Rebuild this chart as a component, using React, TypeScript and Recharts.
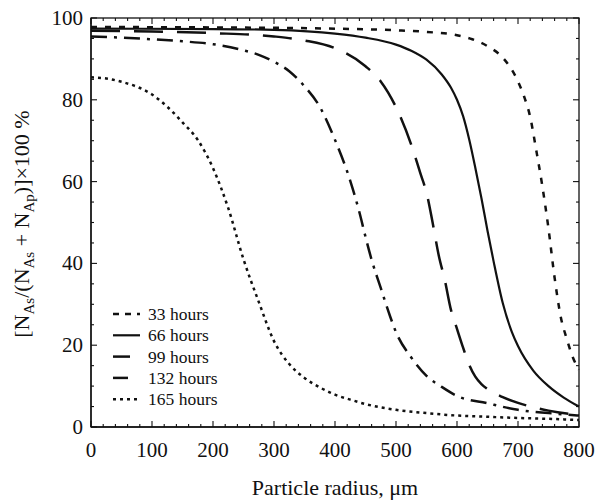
import { LineChart, Line, XAxis, YAxis } from 'recharts'

// particle radius (µm) and percentage, one pair per curve
const radius33 = [0, 200, 300, 400, 500, 550, 600, 625, 650, 675, 700, 710, 720, 730, 740, 750, 760, 770, 780, 790, 800]
const pct33 = [97.8, 97.7, 97.6, 97.4, 97.0, 96.6, 95.8, 94.8, 93.1, 90.3, 84.5, 80.8, 75.8, 67.6, 58.8, 48.5, 36.5, 27, 21.5, 17, 14]

const radius66 = [0, 200, 300, 400, 450, 500, 525, 550, 575, 590, 600, 610, 620, 630, 640, 650, 660, 675, 690, 700, 725, 750, 775, 800]
const pct66 = [97.4, 97.3, 97.1, 96.2, 95.2, 93.5, 92, 89.8, 86.2, 83, 80, 76, 70.3, 63.4, 56, 48, 40.5, 30.3, 23.2, 19.8, 13.8, 10, 7.2, 5]

const radius99 = [0, 100, 200, 300, 350, 400, 450, 475, 500, 525, 540, 550, 560, 570, 580, 590, 600, 610, 620, 630, 640, 650, 675, 700, 750, 800]
const pct99 = [96.9, 96.7, 96.3, 95.5, 94.5, 92.6, 88.2, 84.5, 78.2, 69, 62, 57.3, 50, 42, 35.9, 28.7, 24, 19.4, 15.2, 12.3, 10.5, 9.3, 7.3, 5.9, 4, 2.9]

const radius132 = [0, 100, 150, 200, 250, 275, 300, 325, 350, 375, 400, 425, 440, 450, 460, 475, 490, 500, 525, 550, 575, 600, 650, 700, 750, 800]
const pct132 = [95.5, 94.8, 94.3, 93.6, 92.1, 91, 89.3, 87, 83.3, 78.3, 70.2, 60.2, 52.5, 46.5, 40.9, 34, 27.2, 23.2, 17, 12.5, 9.8, 7.6, 5.8, 4.2, 3.4, 2.8]

const radius165 = [0, 25, 50, 75, 100, 125, 150, 175, 200, 225, 250, 275, 300, 325, 350, 375, 400, 425, 450, 500, 550, 600, 650, 700, 750, 800]
const pct165 = [85.5, 85.2, 84.4, 83.2, 81.3, 78.3, 74.5, 70.2, 63.3, 53.5, 41, 30.6, 21, 15.4, 12, 9.7, 7.9, 6.7, 5.6, 4.2, 3.4, 2.8, 2.5, 2.2, 2, 1.7]

const xMajor = [0, 100, 200, 300, 400, 500, 600, 700, 800]
const yMajor = [0, 20, 40, 60, 80, 100]
const xTicks = Array.from({ length: 41 }, (_, i) => i * 20)
const yTicks = Array.from({ length: 21 }, (_, i) => i * 5)

const FONT = '"Liberation Serif", "Times New Roman", serif'
const INK = '#111'

// plot box: chart margins + axis sizes below
const W = 598
const H = 500
const MARGIN = { top: 18, right: 19, bottom: 0, left: 0 }
const X_AXIS_H = 73
const Y_AXIS_W = 91
const box = {
  left: MARGIN.left + Y_AXIS_W,
  right: W - MARGIN.right,
  top: MARGIN.top,
  bottom: H - MARGIN.bottom - X_AXIS_H,
}
const sx = (v: number) => box.left + (v / 800) * (box.right - box.left)
const sy = (v: number) => box.bottom - (v / 100) * (box.bottom - box.top)

const zip = (rs: number[], ps: number[]) => rs.map((r, i) => ({ r, p: ps[i] }))

const series = [
  { name: '33 hours', data: zip(radius33, pct33), dash: '6 8', key: '6 6', width: 2.5 },
  { name: '66 hours', data: zip(radius66, pct66), dash: undefined, key: undefined, width: 2.2 },
  { name: '99 hours', data: zip(radius99, pct99), dash: '29 14', key: '17 30', width: 2.5 },
  { name: '132 hours', data: zip(radius132, pct132), dash: '16 7 3 7', key: '15 16 3 10', width: 2.5 },
  { name: '165 hours', data: zip(radius165, pct165), dash: '3 4', key: '3 4', width: 2.5 },
]

function BottomTick({ x, y, payload }: any) {
  if (!xMajor.includes(payload.value)) return <g />
  return (
    <text x={x} y={y + 30} textAnchor="middle" fontFamily={FONT} fontSize={21} fill={INK}>
      {payload.value}
    </text>
  )
}

function LeftTick({ x, y, payload }: any) {
  if (!yMajor.includes(payload.value)) return <g />
  return (
    <text x={x - 8} y={y + 7} textAnchor="end" fontFamily={FONT} fontSize={21} fill={INK}>
      {payload.value}
    </text>
  )
}

// frame, inward ticks, axis titles and key, laid over the chart
function Overlay() {
  return (
    <svg width={W} height={H} style={{ position: 'absolute', left: 0, top: 0, pointerEvents: 'none' }}>
      <rect
        x={box.left}
        y={box.top}
        width={box.right - box.left}
        height={box.bottom - box.top}
        fill="none"
        stroke={INK}
        strokeWidth={1.3}
      />
      {xTicks.map((v) => {
        const len = xMajor.includes(v) ? 6 : 3
        return (
          <g key={`x${v}`} stroke={INK} strokeWidth={1.1}>
            <line x1={sx(v)} x2={sx(v)} y1={box.bottom} y2={box.bottom - len} />
            <line x1={sx(v)} x2={sx(v)} y1={box.top} y2={box.top + len} />
          </g>
        )
      })}
      {yTicks.map((v) => {
        const len = yMajor.includes(v) ? 6 : 3
        return (
          <g key={`y${v}`} stroke={INK} strokeWidth={1.1}>
            <line x1={box.left} x2={box.left + len} y1={sy(v)} y2={sy(v)} />
            <line x1={box.right} x2={box.right - len} y1={sy(v)} y2={sy(v)} />
          </g>
        )
      })}
      <text x={335} y={495} textAnchor="middle" fontFamily={FONT} fontSize={22} fill={INK}>
        Particle radius, μm
      </text>
      <text transform="translate(29,224) rotate(-90)" textAnchor="middle" fontFamily={FONT} fontSize={22} fill={INK}>
        [N<tspan dy={5} fontSize={15}>As</tspan>
        <tspan dy={-5}>/(N</tspan>
        <tspan dy={5} fontSize={15}>As</tspan>
        <tspan dy={-5}> + N</tspan>
        <tspan dy={5} fontSize={15}>Ap</tspan>
        <tspan dy={-5}>)]×100 %</tspan>
      </text>
      {series.map((s, i) => {
        const cy = 314 + i * 21.3
        return (
          <g key={s.name}>
            <line x1={113} x2={140} y1={cy} y2={cy} stroke={INK} strokeWidth={s.width} strokeDasharray={s.key} />
            <text x={148} y={cy + 6} fontFamily={FONT} fontSize={17.5} fill={INK}>
              {s.name}
            </text>
          </g>
        )
      })}
    </svg>
  )
}

const frame = { stroke: INK, strokeWidth: 1.3 }

export default function App() {
  return (
    <div style={{ position: 'absolute', left: 0, top: 0, width: W, height: H }}>
      <LineChart width={W} height={H} margin={MARGIN}>
        <XAxis
          xAxisId="b"
          type="number"
          dataKey="r"
          domain={[0, 800]}
          ticks={xTicks}
          interval={0}
          height={X_AXIS_H}
          tickSize={0}
          tickMargin={0}
          tickLine={false}
          axisLine={frame}
          tick={<BottomTick />}
        />
        <YAxis
          yAxisId="l"
          type="number"
          domain={[0, 100]}
          ticks={yTicks}
          interval={0}
          width={Y_AXIS_W}
          tickSize={0}
          tickMargin={0}
          tickLine={false}
          axisLine={frame}
          tick={<LeftTick />}
        />
        {series.map((s) => (
          <Line
            key={s.name}
            xAxisId="b"
            yAxisId="l"
            data={s.data}
            dataKey="p"
            name={s.name}
            type="monotone"
            stroke={INK}
            strokeWidth={s.width}
            strokeDasharray={s.dash}
            dot={false}
            activeDot={false}
            isAnimationActive={false}
          />
        ))}
      </LineChart>
      <Overlay />
    </div>
  )
}
